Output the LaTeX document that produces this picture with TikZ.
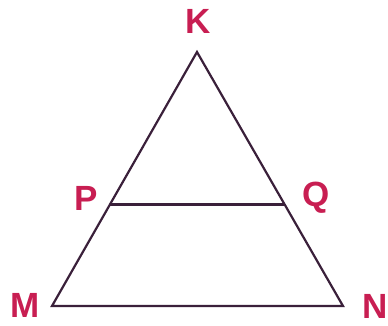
\documentclass[tikz,border=0pt]{standalone}
\usepackage{fontspec}
\setmainfont{Liberation Sans}
\usetikzlibrary{positioning,calc}
\definecolor{labelred}{RGB}{200,30,82}
\definecolor{edgeline}{RGB}{58,32,58}

\begin{document}
\begin{tikzpicture}[
    x=1pt, y=-1pt,
    lbl/.style={text=labelred, font=\fontsize{35}{40}\selectfont\bfseries, inner sep=0pt},
    edge/.style={draw=edgeline, line width=2.2pt, line join=miter}
]
\useasboundingbox (0,0) rectangle (388,326);
\coordinate (K) at (197,52);
\coordinate (M) at (52,306);
\coordinate (N) at (343,306);
\coordinate (P) at ($(K)!0.6!(M)$);
\coordinate (Q) at ($(K)!0.6!(N)$);

\node[lbl] (lk) at (198,21) {K};
\node[lbl] (lp) at (86,198) {P};
\node[lbl] (lq) at (316,198) {Q};
\node[lbl] (lm) at (25,305) {M};
\node[lbl] (ln) at (375,306) {N};

\draw[edge] (K) -- (N) -- (M) -- cycle;
\draw[edge] (P) -- (Q);
\end{tikzpicture}
\end{document}
